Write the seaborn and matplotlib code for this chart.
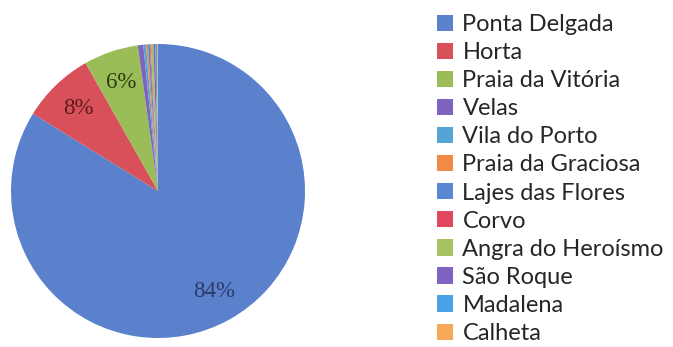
import matplotlib
matplotlib.use("Agg")
import matplotlib.pyplot as plt
from matplotlib.patches import Patch
import seaborn as sns

# Share of each municipality (percent)
municipalities = [
    "Ponta Delgada", "Horta", "Praia da Vitória", "Velas", "Vila do Porto",
    "Praia da Graciosa", "Lajes das Flores", "Corvo", "Angra do Heroísmo",
    "São Roque", "Madalena", "Calheta",
]
shares = [83.8, 8.0, 6.0, 0.6, 0.3, 0.2, 0.2, 0.1, 0.3, 0.2, 0.2, 0.1]

slice_colors = [
    "#5b80cc", "#d8505a", "#9bbd58", "#7d64bf", "#55a4d8", "#f08a45",
    "#5b86d4", "#e04660", "#a8c263", "#8062c0", "#4aa2e6", "#f6a957",
]
label_colors = {0: "#2c3a68", 1: "#5a1c1c", 2: "#2c3c12"}

sns.set_theme(style="white")
plt.rcParams["font.family"] = ["Lato", "DejaVu Sans"]

fig = plt.figure(figsize=(6.73, 3.47), dpi=100)
W, H = 673, 347
cx, cy, r = 158, 191, 147
ax = fig.add_axes([(cx - r) / W, (H - cy - r) / H, 2 * r / W, 2 * r / H])

wedges, _, autotexts = ax.pie(
    shares,
    colors=sns.color_palette(slice_colors),
    startangle=90,
    counterclock=False,
    autopct=lambda p: f"{p:.0f}%" if p >= 5 else "",
    pctdistance=0.78,
    wedgeprops=dict(linewidth=0),
    textprops=dict(family=["Liberation Serif", "DejaVu Serif"], fontsize=16.5),
)
for i, t in enumerate(autotexts):
    t.set_color(label_colors.get(i, "black"))
ax.set_xlim(-1, 1)
ax.set_ylim(-1, 1)
ax.set_aspect("auto")
ax.axis("off")

handles = [Patch(facecolor=c, edgecolor="none") for c in slice_colors]
fig.legend(
    handles, municipalities,
    loc="upper left",
    bbox_to_anchor=(437 / W, 1 - 14 / H),
    frameon=False,
    fontsize=17,
    handlelength=0.68,
    handleheight=0.68,
    handletextpad=0.4,
    labelspacing=0.3,
    borderaxespad=0,
    borderpad=0,
)

fig.savefig("out.png", dpi=100)
